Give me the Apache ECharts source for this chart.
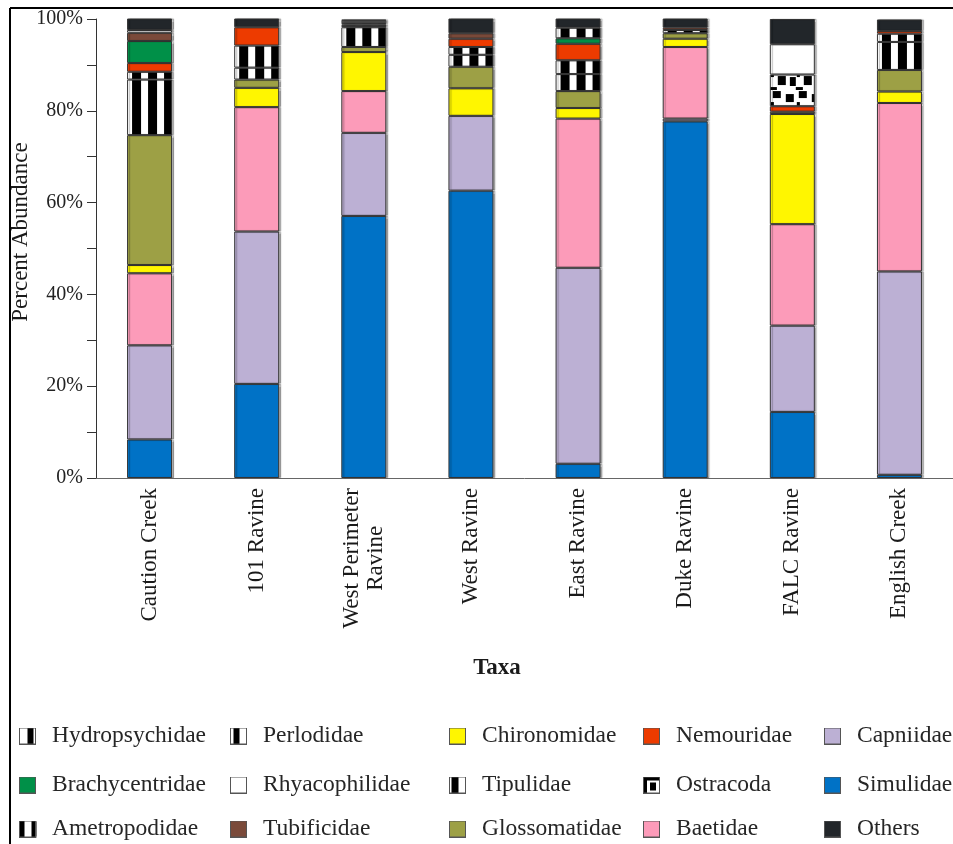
<!DOCTYPE html>
<html>
<head>
<meta charset="utf-8">
<script src="https://cdn.jsdelivr.net/npm/echarts@6/dist/echarts.min.js"></script>
<style>html,body{margin:0;padding:0;background:#fff;}#chart{width:953px;height:844px;}</style>
</head>
<body>
<div id="chart"></div>
<script>
// ---- data ----
const categories = ['Caution Creek', '101 Ravine', 'West Perimeter\nRavine', 'West Ravine', 'East Ravine', 'Duke Ravine', 'FALC Ravine', 'English Creek'];
const yTicks = [0, 20, 40, 60, 80, 100];
// stacking order bottom -> top
const Simulidae      = [8.4, 20.5, 57.1, 62.6, 3.1, 77.7, 14.4, 0.7];
const Capniidae      = [20.5, 33.2, 18.1, 16.3, 42.7, 0.6, 18.8, 44.3];
const Baetidae       = [15.7, 27.1, 9.1, 0, 32.5, 15.6, 22.1, 36.7];
const Chironomidae   = [1.8, 4.2, 8.5, 6.0, 2.3, 1.8, 24.0, 2.5];
const Glossomatidae  = [28.3, 1.8, 1.1, 4.7, 3.7, 1.2, 0.5, 4.7];
const Hydropsychidae = [12.1, 2.6, 4.3, 2.6, 3.7, 0.7, 0, 6.1];
const Perlodidae     = [1.7, 4.8, 0.3, 1.7, 3.0, 0, 0, 1.8];
const Nemouridae     = [1.9, 4.0, 0, 1.8, 3.6, 0.5, 1.2, 0.6];
const Brachycentridae= [4.8, 0, 0, 0, 1.2, 0, 0, 0];
const Tipulidae      = [0, 0, 0.3, 0, 2.3, 0, 0, 0];
const Tubificidae    = [1.8, 0, 0, 1.2, 0, 0, 0, 0];
const Ametropodidae  = [0, 0, 0.3, 0, 0, 0, 0, 0];
const Ostracoda      = [0, 0, 0, 0, 0, 0, 6.9, 0];
const Rhyacophilidae = [0.6, 0, 0.5, 0, 0, 0, 6.6, 0];
const Others         = [2.5, 2.0, 0.3, 3.2, 2.0, 2.0, 5.5, 2.5];

const seriesNames = ['Simulidae','Capniidae','Baetidae','Chironomidae','Glossomatidae','Hydropsychidae','Perlodidae','Nemouridae','Brachycentridae','Tipulidae','Tubificidae','Ametropodidae','Ostracoda','Rhyacophilidae','Others'];
const seriesValues = [Simulidae,Capniidae,Baetidae,Chironomidae,Glossomatidae,Hydropsychidae,Perlodidae,Nemouridae,Brachycentridae,Tipulidae,Tubificidae,Ametropodidae,Ostracoda,Rhyacophilidae,Others];

// legend layout (rows x columns as in the figure)
const legendRows = [
  ['Hydropsychidae','Perlodidae','Chironomidae','Nemouridae','Capniidae'],
  ['Brachycentridae','Rhyacophilidae','Tipulidae','Ostracoda','Simulidae'],
  ['Ametropodidae','Tubificidae','Glossomatidae','Baetidae','Others']
];

// ---- styles ----
const FONT = 'Liberation Serif';
const BAR_W = 45;
const solid = {
  Simulidae:'#0072c6', Capniidae:'#bcb0d4', Baetidae:'#fc9bb9', Chironomidae:'#fff600',
  Glossomatidae:'#9da045', Nemouridae:'#ed3b00', Brachycentridae:'#009048',
  Tubificidae:'#7a4a3a', Rhyacophilidae:'#ffffff', Others:'#22262a'
};
const striped = {Hydropsychidae:1, Perlodidae:1, Tipulidae:1, Ametropodidae:1};
const iconStripe = { Hydropsychidae:[[8,14]], Perlodidae:[[3,9]], Tipulidae:[[2,9]], Ametropodidae:[[0,5],[12,17]] };

function stripeTile(){
  const c = document.createElement('canvas'); c.width = 16; c.height = 4;
  const g = c.getContext('2d'); g.fillStyle = '#fff'; g.fillRect(0,0,16,4);
  g.fillStyle = '#000'; g.fillRect(0,0,9,4); return c;
}
function ostracodaTile(){
  const c = document.createElement('canvas'); c.width = 26; c.height = 30;
  const g = c.getContext('2d'); g.fillStyle = '#fff'; g.fillRect(0,0,26,30);
  g.fillStyle = '#000';
  [[3,1,8,7],[16,4,8,8],[1,12,3,5],[8,16,8,9],[20,17,6,9],[0,27,7,3]].forEach(r=>g.fillRect(r[0],r[1],r[2],r[3]));
  return c;
}
const STRIPE = stripeTile();
const OSTRA = ostracodaTile();

function iconFor(name){
  const c = document.createElement('canvas'); c.width = 28; c.height = 17;
  const g = c.getContext('2d');
  g.fillStyle = solid[name] || '#fff'; g.fillRect(0.5,0.5,16,16);
  g.fillStyle = '#000';
  if (iconStripe[name]) iconStripe[name].forEach(r=>g.fillRect(r[0]+0.5,0.5,r[1]-r[0],16));
  if (name === 'Ostracoda') { g.fillRect(1,1,15,3); g.fillRect(1,1,3,15); g.fillRect(7,6,6,8); g.fillStyle='#fff'; g.fillRect(4,4,3,3);}
  g.strokeStyle = '#555'; g.lineWidth = 1; g.strokeRect(0.5,0.5,16,16);
  return 'image://' + c.toDataURL();
}

const colIconX = [19, 230, 449, 643, 824];
const rowCenterY = [736, 785, 829];
const legends = [];
legendRows.forEach((row, r) => row.forEach((name, c) => {
  legends.push({
    data: [{name: name, icon: iconFor(name)}],
    left: colIconX[c], top: rowCenterY[r] - 12, padding: 0,
    itemWidth: 28, itemHeight: 17,
    textStyle: {fontFamily: FONT, fontSize: 23.5, color: '#262626'}
  });
}));

function fillFor(name, barLeft){
  if (solid[name]) return solid[name];
  if (striped[name]) return {image: STRIPE, repeat: 'repeat', x: barLeft + 5, y: 0};
  return {image: OSTRA, repeat: 'repeat', x: barLeft, y: 0};
}

function buildSeries(barLefts){
  return seriesNames.map((name, i) => ({
    name: name, type: 'bar', stack: 'total', barWidth: BAR_W,
    data: seriesValues[i].map((v, k) => v === 0 ? '-' :
      {value: v, itemStyle: {color: fillFor(name, barLefts ? barLefts[k] : 0)}}),
    itemStyle: {color: solid[name] || '#fff', borderColor: '#333', borderWidth: 1,
                shadowColor: 'rgba(0,0,0,0.28)', shadowOffsetX: 2, shadowBlur: 1},
    emphasis: {disabled: true}
  }));
}

const chart = echarts.init(document.getElementById('chart'), null, {renderer: 'canvas'});
chart.setOption({
  animation: false,
  backgroundColor: '#fff',
  legend: legends,
  grid: {left: 96, right: 0, top: 19, bottom: 366, containLabel: false},
  xAxis: {
    type: 'category', data: categories,
    axisLine: {lineStyle: {color: '#666', width: 1}},
    axisTick: {alignWithLabel: true, length: 6, lineStyle: {color: '#666'}},
    axisLabel: {
      rotate: 90, margin: 10, interval: 0, color: '#1a1a1a',
      fontFamily: FONT, fontSize: 23,
      formatter: v => v.split('\n').map(s => '{c|' + s + '}').join('\n'),
      rich: {c: {align: 'center', fontFamily: FONT, fontSize: 23, color: '#1a1a1a', lineHeight: 24}}
    }
  },
  yAxis: {
    type: 'value', min: yTicks[0], max: yTicks[yTicks.length-1], interval: 20,
    axisLine: {show: true, lineStyle: {color: '#333', width: 1}},
    axisTick: {show: true, length: 9, lineStyle: {color: '#333'}},
    minorTick: {show: true, splitNumber: 2, length: 9, lineStyle: {color: '#333'}},
    splitLine: {show: false},
    axisLabel: {formatter: '{value}%', margin: 13, color: '#222', fontFamily: FONT, fontSize: 20}
  },
  graphic: [
    {type: 'text', x: 21, y: 232, rotation: Math.PI/2,
     style: {text: 'Percent Abundance', font: '23px "Liberation Serif"', fill: '#1a1a1a', align: 'center', verticalAlign: 'middle'}},
    {type: 'text', x: 497, y: 668,
     style: {text: 'Taxa', font: 'bold 23px "Liberation Serif"', fill: '#1a1a1a', align: 'center', verticalAlign: 'middle'}},
    {type: 'line', shape: {x1: 10, y1: 8, x2: 10, y2: 844}, style: {stroke: '#000', lineWidth: 2}},
    {type: 'line', shape: {x1: 10, y1: 8, x2: 953, y2: 8}, style: {stroke: '#000', lineWidth: 2}}
  ],
  series: buildSeries(null)
});
// anchor the patterns on each bar's left edge using the axis scale
const barLefts = categories.map((c, k) => chart.convertToPixel({xAxisIndex: 0}, k) - BAR_W / 2);
chart.setOption({series: buildSeries(barLefts)});
</script>
</body>
</html>
